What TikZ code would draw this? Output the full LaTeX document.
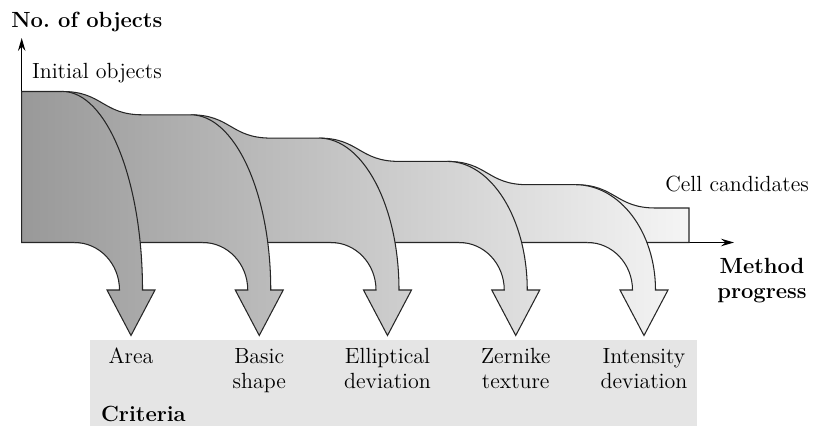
\documentclass[tikz,border=0pt]{standalone}
\usepackage{tikz}
\usetikzlibrary{arrows.meta}
\definecolor{flowdark}{gray}{0.60}
\definecolor{flowlight}{gray}{0.96}
\definecolor{critfill}{gray}{0.90}

\begin{document}
\begin{tikzpicture}[x=0.02cm,y=-0.02cm,font=\fontsize{12.5}{14.2}\selectfont,
  flowline/.style={draw=black!85,line width=0.6pt},
  flowshade/.style={left color=flowdark,right color=flowlight},
  axisline/.style={line width=0.6pt,-{Stealth[length=2.6mm,width=1.5mm,inset=0.9mm]}},
  lbl/.style={inner sep=0pt,align=center,anchor=base},
  ]
\useasboundingbox (0,0) rectangle (815,426);
% criteria box
\fill[critfill] (90,340) rectangle (697,426);
% axes
\coordinate (origin) at (21.7,242.5);
\coordinate (ytip) at (21.7,38);
\coordinate (xtip) at (734,242.5);
\draw[axisline] (origin) -- (ytip);
\draw[axisline] (origin) -- (xtip);
% the band of objects, one step down per criterion
\shade[flowshade,flowline] (origin) -- (21.7,91.5)
  -- (62.5,91.5) .. controls (102.5,91.5) and (102.5,114.8) .. (142.5,114.8)
  -- (190.75,114.8) .. controls (230.75,114.8) and (230.75,138.1) .. (270.75,138.1)
  -- (319,138.1) .. controls (359,138.1) and (359,161.4) .. (399,161.4)
  -- (447.25,161.4) .. controls (487.25,161.4) and (487.25,184.7) .. (527.25,184.7)
  -- (575.5,184.7) .. controls (615.5,184.7) and (615.5,208) .. (655.5,208)
  -- (689,208) -- (689,242.5) -- cycle;
% the rejected objects leave downwards
\foreach \T/\top in {131/91.5,259.25/114.8,387.5/138.1,515.75/161.4,644/184.7}{
  \begin{scope}
    \clip ({\T-56.5},242.5) -- ({\T-68.5},\top)
      .. controls ({\T-24.3},\top) and ({\T+11.5},{290-0.5523*(290-\top)}) .. ({\T+11.5},290)
      -- ({\T+24},290) -- (\T,335.5) -- ({\T-24},290) -- ({\T-11.5},290)
      .. controls ({\T-11.5},263.77) and ({\T-31.65},242.5) .. ({\T-56.5},242.5) -- cycle;
    \shade[flowshade] (21.7,80) rectangle (689,340);
  \end{scope}
  \draw[flowline] ({\T-68.5},\top)
    .. controls ({\T-24.3},\top) and ({\T+11.5},{290-0.5523*(290-\top)}) .. ({\T+11.5},290)
    -- ({\T+24},290) -- (\T,335.5) -- ({\T-24},290) -- ({\T-11.5},290)
    .. controls ({\T-11.5},263.77) and ({\T-31.65},242.5) .. ({\T-56.5},242.5);
}
% texts
\node[inner sep=0pt,anchor=base west,font=\fontsize{12.5}{14.2}\selectfont\bfseries] (title) at (11,28) {No.\ of objects};
\node[inner sep=0pt,anchor=base west] (initial) at (31.7,78) {Initial objects};
\node[inner sep=0pt,anchor=base west] (cell) at (665,191.7) {Cell candidates};
\node[lbl,font=\fontsize{12.5}{14.2}\selectfont\bfseries] (method) at (762,298) {Method\\progress};
\foreach \T/\y/\txt [count=\i] in {131/363/Area,259.25/388/{Basic\\shape},387.5/388/{Elliptical\\deviation},515.75/388/{Zernike\\texture},644/388/{Intensity\\deviation}}
  \node[lbl] (crit\i) at (\T,\y) {\txt};
\node[inner sep=0pt,anchor=base west,font=\fontsize{12.5}{14.2}\selectfont\bfseries] (criteria) at (100.7,421.7) {Criteria};
\end{tikzpicture}
\end{document}
